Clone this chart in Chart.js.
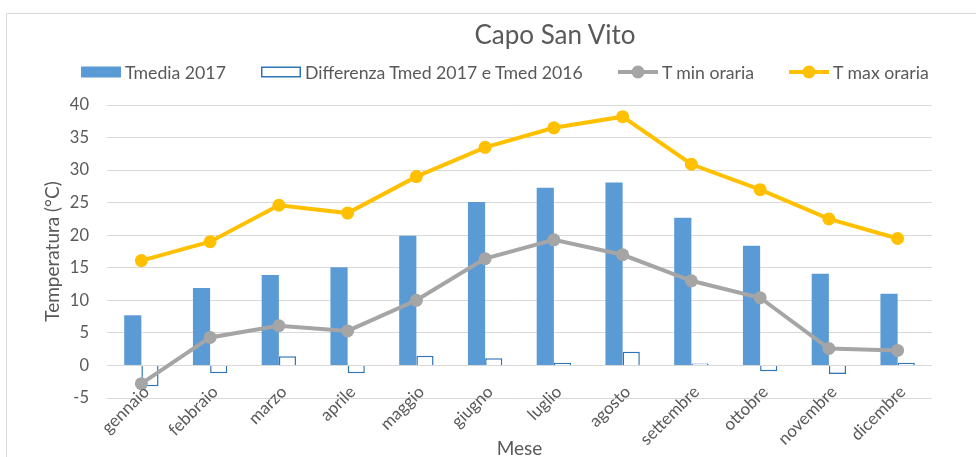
<!DOCTYPE html>
<html>
<head>
<meta charset="utf-8">
<script src="https://cdn.jsdelivr.net/npm/chart.js@4.4.1/dist/chart.umd.min.js"></script>
<style>
    html, body { margin: 0; padding: 0; background: #fff; width: 976px; height: 457px; overflow: hidden; }
    #frame { position: absolute; left: 6px; top: 13px; width: 1100px; height: 600px; border: 1px solid #d9d9d9; }
    #title { position: absolute; left: 0; width: 1110px; top: 19px; text-align: center;
             font: 26px Lato, sans-serif; color: #595959; line-height: 30px; }
    #legend { position: absolute; left: 81px; top: 62px; height: 20px; display: flex; align-items: center;
              font: 17.7px Lato, sans-serif; color: #595959; white-space: nowrap; }
    .item { display: flex; align-items: center; margin-right: 35px; }
    .item canvas { margin-right: 4px; }
    #wrap { position: absolute; left: 0; top: 0; width: 976px; height: 457px; }
</style>
</head>
<body>
<div id="frame"></div>
<div id="wrap"><canvas id="tempChart" width="976" height="457"></canvas></div>
<div id="title">Capo San Vito</div>
<div id="legend"></div>

<script>
/* ── Data ── */
const mesi = ['gennaio', 'febbraio', 'marzo', 'aprile', 'maggio', 'giugno',
              'luglio', 'agosto', 'settembre', 'ottobre', 'novembre', 'dicembre'];
const tMedia2017 = [7.7, 11.9, 13.9, 15.1, 19.9, 25.1, 27.3, 28.1, 22.7, 18.4, 14.1, 11.0];
const diffTmed   = [-3.2, -1.2, 1.4, -1.2, 1.5, 1.1, 0.4, 2.1, 0.3, -0.9, -1.3, 0.4];
const tMinOraria = [-2.8, 4.3, 6.1, 5.3, 10.0, 16.4, 19.3, 17.0, 13.0, 10.4, 2.6, 2.3];
const tMaxOraria = [16.1, 19.0, 24.6, 23.4, 29.0, 33.5, 36.5, 38.2, 30.9, 27.0, 22.5, 19.5];
const yMin = -5, yMax = 40, yStep = 5;

const GREY_TXT = '#595959';
const GRID = '#d9d9d9';

/* ── Month labels: Excel puts them slanted and tucked up against the plot,
      Chart.js clips tick labels to the axis box, so draw them ourselves ── */
const slantedLabels = {
    id: 'slantedLabels',
    afterDraw(chart) {
        const x = chart.scales.x;
        const ctx = chart.ctx;
        ctx.save();
        ctx.fillStyle = GREY_TXT;
        ctx.font = '17px Lato';
        ctx.textAlign = 'right';
        ctx.textBaseline = 'middle';
        chart.data.labels.forEach((lab, i) => {
            ctx.save();
            ctx.translate(x.getPixelForTick(i) + 5, x.top - 9);
            ctx.rotate(-Math.PI / 4);
            ctx.fillText(lab, 0, 0);
            ctx.restore();
        });
        ctx.restore();
    }
};

/* ============================================================
   CHART — bars + lines
   ============================================================ */
const chart = new Chart(document.getElementById('tempChart'), {
    type: 'bar',
    data: {
        labels: mesi,
        datasets: [
            {
                label: 'Tmedia 2017',
                data: tMedia2017,
                backgroundColor: '#5b9bd5',
                borderWidth: 0,
                barPercentage: 1,
                categoryPercentage: 0.5,
                order: 2
            },
            {
                label: 'Differenza Tmed 2017 e Tmed 2016',
                data: diffTmed,
                backgroundColor: '#ffffff',
                borderColor: '#2e75b6',
                borderWidth: 1.5,
                barPercentage: 1,
                categoryPercentage: 0.5,
                order: 2
            },
            {
                label: 'T min oraria',
                data: tMinOraria,
                type: 'line',
                borderColor: '#a5a5a5',
                backgroundColor: '#a5a5a5',
                borderWidth: 4,
                pointRadius: 6.5,
                pointBorderWidth: 0,
                pointBackgroundColor: '#a5a5a5',
                tension: 0,
                order: 1
            },
            {
                label: 'T max oraria',
                data: tMaxOraria,
                type: 'line',
                borderColor: '#ffc000',
                backgroundColor: '#ffc000',
                borderWidth: 4,
                pointRadius: 6.5,
                pointBorderWidth: 0,
                pointBackgroundColor: '#ffc000',
                tension: 0,
                order: 0
            }
        ]
    },
    options: {
        responsive: false,
        animation: false,
        devicePixelRatio: 1,
        layout: { padding: { top: 105, right: 44, left: 0, bottom: 0 } },
        plugins: { legend: { display: false }, tooltip: { enabled: false } },
        scales: {
            x: {
                grid: { display: false },
                border: { display: false },
                ticks: { display: false, autoSkip: false },
                title: {
                    display: true, text: 'Mese', color: GREY_TXT,
                    font: { size: 19, family: 'Lato', lineHeight: 1 },
                    padding: { top: 0, bottom: -1 }
                },
                afterFit: s => { s.height = 59; }
            },
            y: {
                min: yMin, max: yMax,
                grid: { color: GRID, lineWidth: 1, drawTicks: false },
                border: { display: false },
                ticks: { stepSize: yStep, padding: 18, color: GREY_TXT, font: { size: 16.5, family: 'Lato' } },
                title: {
                    display: true, text: 'Temperatura (°C)', color: GREY_TXT,
                    font: { size: 19, family: 'Lato', lineHeight: 1 },
                    padding: { top: 43, bottom: 0 }
                },
                afterFit: s => { s.width = 107; }
            }
        }
    },
    plugins: [slantedLabels]
});

/* ── Legend built from the datasets ── */
const legend = document.getElementById('legend');
chart.data.datasets.forEach(ds => {
    const item = document.createElement('div');
    item.className = 'item';
    const mk = document.createElement('canvas');
    mk.width = 40; mk.height = 14;
    const c = mk.getContext('2d');
    if (ds.type === 'line') {
        c.strokeStyle = ds.borderColor; c.lineWidth = 4;
        c.beginPath(); c.moveTo(0, 7); c.lineTo(40, 7); c.stroke();
        c.fillStyle = ds.borderColor;
        c.beginPath(); c.arc(20, 7, 6.5, 0, Math.PI * 2); c.fill();
    } else {
        c.fillStyle = ds.backgroundColor; c.fillRect(0, 1.5, 40, 11);
        if (ds.borderColor) {
            c.strokeStyle = ds.borderColor; c.lineWidth = 1.5;
            c.strokeRect(0.75, 2.25, 38.5, 9.5);
        }
    }
    const txt = document.createElement('span');
    txt.textContent = ds.label;
    item.appendChild(mk);
    item.appendChild(txt);
    legend.appendChild(item);
});
</script>
</body>
</html>
